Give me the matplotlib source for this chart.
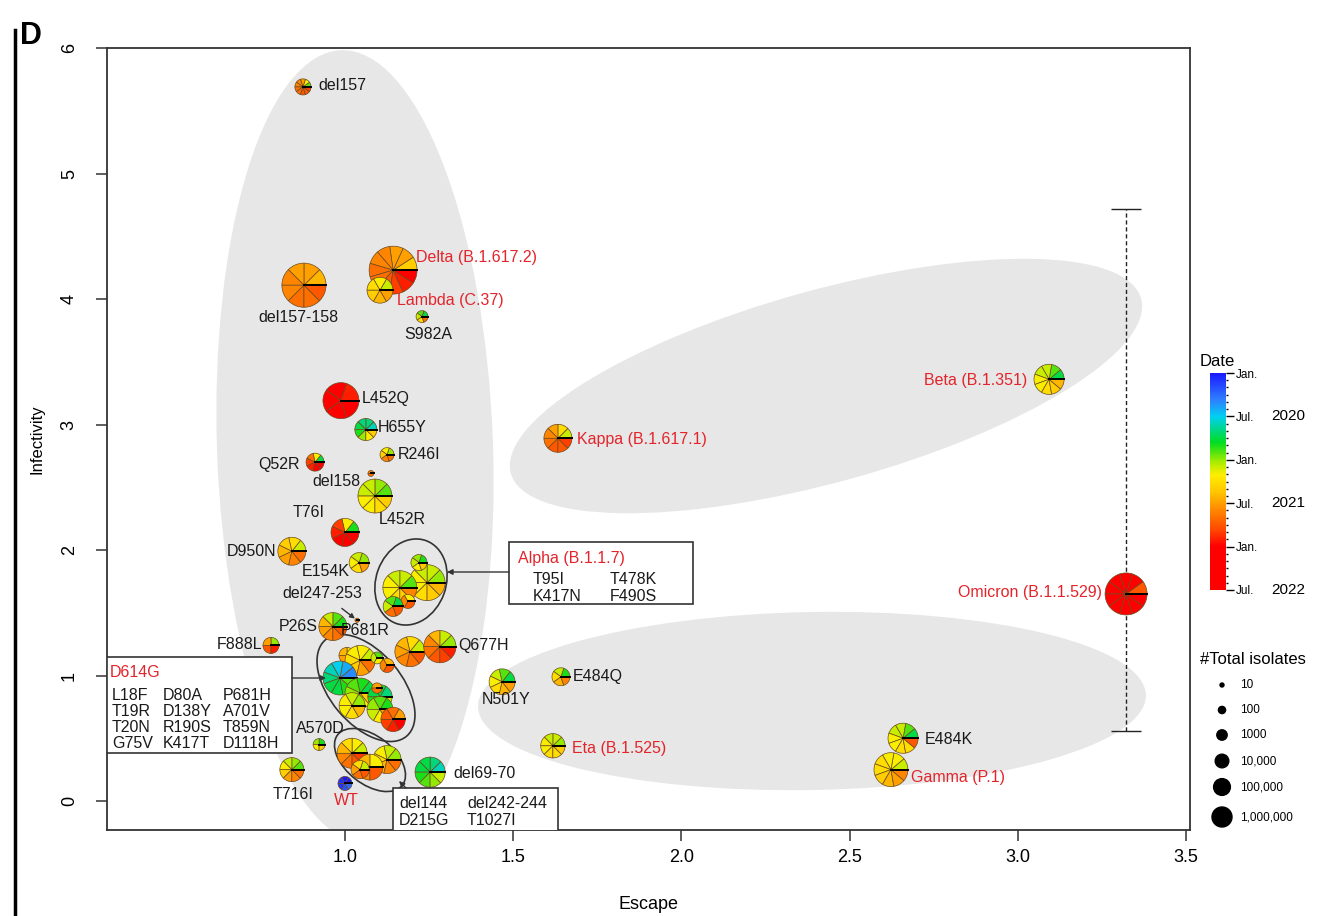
import numpy as np
import matplotlib.pyplot as plt
from matplotlib import transforms
from matplotlib.lines import Line2D
from matplotlib.patches import Wedge, Ellipse, Rectangle
from matplotlib.colors import LinearSegmentedColormap, Normalize
from matplotlib.cm import ScalarMappable

plt.rcParams['font.family'] = ['Liberation Sans', 'DejaVu Sans']

# mutations / variants: escape (x), infectivity (y), total isolates, months of isolates
# (month 0 = Jan 2020 ... month 30 = Jul 2022)
labels = ['del157', 'del157-158', 'Delta (B.1.617.2)', 'Lambda (C.37)', 'S982A',
          'L452Q', 'H655Y', 'R246I', 'Q52R', 'del158', 'L452R', 'T76I', 'D950N',
          'E154K', '', '', '', '', 'P681R', 'del247-253', 'P26S', 'F888L', '',
          'Q677H', '', '', '', '', '', '', '', '', '', '', '', 'A570D', 'T716I', 'WT',
          '', '', '', '', 'del69-70', 'N501Y', 'E484Q', 'Eta (B.1.525)', 'E484K',
          'Gamma (P.1)', 'Beta (B.1.351)', 'Kappa (B.1.617.1)', 'Omicron (B.1.1.529)']
escape = [0.875, 0.878, 1.143, 1.104, 1.229,
          0.988, 1.062, 1.125, 0.911, 1.077, 1.089, 1.000, 0.842,
          1.042, 1.244, 1.163, 1.220, 1.187, 1.143, 1.036, 0.964, 0.780, 1.193,
          1.282, 1.006, 1.045, 1.095, 1.125, 0.985, 1.045, 1.104, 1.095, 1.021, 1.104, 1.143, 0.923, 0.842, 1.000,
          1.021, 1.125, 1.074, 1.045, 1.253, 1.467, 1.642, 1.618, 2.659,
          2.623, 3.093, 1.633, 3.322]
infectivity = [5.69, 4.11, 4.23, 4.07, 3.86,
               3.19, 2.96, 2.76, 2.70, 2.61, 2.43, 2.14, 1.99,
               1.90, 1.74, 1.70, 1.90, 1.59, 1.55, 1.44, 1.39, 1.24, 1.19,
               1.23, 1.16, 1.12, 1.14, 1.08, 0.98, 0.86, 0.83, 0.90, 0.76, 0.73, 0.65, 0.45, 0.25, 0.14,
               0.38, 0.33, 0.27, 0.25, 0.23, 0.95, 0.99, 0.44, 0.50,
               0.25, 3.36, 2.89, 1.65]
isolates = [200, 2e6, 7e6, 5000, 50,
            1.4e5, 1400, 100, 370, 7, 7e4, 1e4, 1e4,
            700, 1.4e5, 7e4, 200, 100, 700, 4, 1e4, 200, 2e4,
            4e4, 200, 2e4, 50, 100, 7e4, 2e4, 3000, 30, 5000, 5000, 3000, 50, 2700, 100,
            2e4, 1e4, 5000, 400, 2e4, 5000, 370, 3000, 2e4,
            7e4, 2e4, 1e4, 1e6]
months = [[11, 14, 18, 19, 19, 20, 20, 21, 21, 22],
          [17, 18, 18, 19, 19, 20, 20, 21],
          [16, 18, 18, 19, 19, 20, 20, 21, 22, 23, 24],
          [13, 14, 15, 16, 17, 18],
          [9, 11, 13, 15, 20],
          [23, 24, 24, 25, 26],
          [7, 8, 8, 9, 10, 12, 14, 16],
          [12, 14, 16, 19, 20],
          [9, 14, 20, 22, 23, 24, 25],
          [19, 20],
          [11, 12, 13, 13, 14, 14, 15, 16],
          [10, 14, 22, 23, 24, 24, 25],
          [13, 15, 16, 17, 18, 19, 20],
          [12, 13, 14, 15, 18],
          [12, 13, 13, 14, 14, 15, 16, 17],
          [11, 13, 13, 14, 14, 15, 16, 19],
          [10, 12, 13, 14, 16],
          [14, 19, 21],
          [9, 11, 13, 20, 21],
          [19, 20],
          [10, 11, 13, 17, 18, 19, 20, 21],
          [12, 18, 21, 23],
          [13, 15, 17, 18, 19, 20, 21],
          [12, 13, 17, 19, 20, 21, 22, 23],
          [15, 17, 18, 19],
          [13, 14, 14, 15, 16, 18, 20],
          [11, 13, 14],
          [17, 19, 21],
          [4, 5, 6, 7, 8, 9, 9, 10, 11],
          [9, 10, 11, 12, 13, 14, 16],
          [8, 9, 9, 10, 11, 13],
          [18, 20],
          [12, 13, 14, 14, 15, 17],
          [10, 11, 12, 13, 14, 18],
          [18, 20, 21, 22, 23, 24],
          [10, 12, 14, 16],
          [11, 12, 13, 14, 16, 18, 19, 20],
          [0, 0, 1, 1, 2, 3],
          [13, 14, 15, 17, 19, 20, 21, 22],
          [12, 13, 14, 15, 17, 19, 20],
          [14, 17, 19, 21],
          [13, 15, 18, 20, 21],
          [7, 8, 9, 9, 10, 11, 12, 13],
          [9, 11, 13, 14, 15, 17, 18],
          [10, 13, 15, 17, 19],
          [12, 13, 13, 14, 14, 15, 15, 16],
          [9, 11, 13, 13, 14, 14, 15, 15, 21],
          [13, 14, 14, 15, 15, 16, 17, 18, 19],
          [9, 11, 13, 13, 14, 14, 15, 16, 17],
          [13, 15, 18, 19, 20, 21, 21, 22],
          [21, 24, 24, 24, 24, 24, 24, 24, 25, 25]]
variants = {'Delta (B.1.617.2)', 'Lambda (C.37)', 'WT', 'Eta (B.1.525)', 'Gamma (P.1)',
            'Beta (B.1.351)', 'Kappa (B.1.617.1)', 'Omicron (B.1.1.529)'}
omicron_range = [0.56, 4.72]

date_ticks = [0, 6, 12, 18, 24, 30]
date_tick_labels = ['Jan.', 'Jul.', 'Jan.', 'Jul.', 'Jan.', 'Jul.']
years = {6: '2020', 18: '2021', 30: '2022'}
size_values = [10, 100, 1000, 10000, 100000, 1000000]
size_labels = ['10', '100', '1000', '10,000', '100,000', '1,000,000']

# label placement: offset in pixels from the point, alignment
label_pos = {
    'del157': (15, 1, 'left'), 'del157-158': (-6, -32, 'center'),
    'Delta (B.1.617.2)': (23, 13, 'left'), 'Lambda (C.37)': (17, -10, 'left'),
    'S982A': (6, -18, 'center'), 'L452Q': (21, 2, 'left'), 'H655Y': (12, 2, 'left'),
    'R246I': (11, 0, 'left'), 'Q52R': (-15, -2, 'right'), 'del158': (-34, -8, 'center'),
    'L452R': (27, -23, 'center'), 'T76I': (-36, 20, 'center'), 'D950N': (-16, 0, 'right'),
    'E154K': (-9, -9, 'right'), 'P681R': (-28, -24, 'center'), 'P26S': (-15, 0, 'right'),
    'F888L': (-9, 1, 'right'), 'Q677H': (18, 1, 'left'), 'A570D': (1, 16, 'center'),
    'T716I': (1, -25, 'center'), 'WT': (1, -17, 'center'), 'del69-70': (23, -1, 'left'),
    'N501Y': (4, -18, 'center'), 'E484Q': (12, 0, 'left'), 'Eta (B.1.525)': (19, -3, 'left'),
    'E484K': (22, -1, 'left'), 'Gamma (P.1)': (20, -8, 'left'),
    'Beta (B.1.351)': (-22, -1, 'right'), 'Kappa (B.1.617.1)': (19, -1, 'left'),
    'Omicron (B.1.1.529)': (-24, 1, 'right'),
}

RED = '#e3242b'
cmap = LinearSegmentedColormap.from_list('date', [
    (0.0, '#1a1aff'), (0.12, '#2f7dff'), (0.2, '#00d0f0'), (0.32, '#00dd20'),
    (0.41, '#a8ec00'), (0.47, '#ffee00'), (0.55, '#ffc400'), (0.62, '#ff9000'),
    (0.72, '#ff4a00'), (0.8, '#ff0000'), (1.0, '#ff0000')])


def px(x, y):
    # image pixel -> data coordinates (for annotation layout)
    return (x - 8.6) / 336.4, (801 - y) / 125.5


fig = plt.figure(figsize=(13.32, 9.16), dpi=100)
ax = fig.add_axes([107 / 1332, 86 / 916, 1083 / 1332, 782 / 916])


def pix_trans(x, y):
    return fig.dpi_scale_trans + transforms.ScaledTranslation(x, y, ax.transData)


# grey groups
for (cx, cy), w, h, ang in [(px(355, 447), 276, 794, 2), (px(826, 386), 654, 192, 15.5),
                            (px(812, 701), 668, 178, 1)]:
    ax.add_patch(Ellipse((0, 0), w / 100, h / 100, angle=ang, facecolor='#e7e7e7',
                         edgecolor='none', transform=pix_trans(cx, cy), zorder=0.5))

# cluster outlines
for (cx, cy), w, h, ang in [(px(411, 582), 88, 70, 70), (px(366, 688), 126, 72, -50),
                            (px(370, 760), 82, 48, -38)]:
    ax.add_patch(Ellipse((0, 0), w / 100, h / 100, angle=ang, fill=False,
                         edgecolor='#333333', lw=1.2, transform=pix_trans(cx, cy), zorder=2))

# omicron range
i_om = labels.index('Omicron (B.1.1.529)')
eb = ax.errorbar([escape[i_om]], [infectivity[i_om]],
                 yerr=[[infectivity[i_om] - omicron_range[0]], [omicron_range[1] - infectivity[i_om]]],
                 fmt='none', ecolor='#222222', elinewidth=1.0, capsize=11, capthick=1.0, zorder=2)
eb[2][0].set_linestyle((0, (3, 2)))

# pies
for name, x, y, n, mons in zip(labels, escape, infectivity, isolates, months):
    r = 3.5 * np.log10(n) / 100
    tr = pix_trans(x, y)
    step = 360 / len(mons)
    for k, m in enumerate(mons):
        ax.add_patch(Wedge((0, 0), r, k * step, (k + 1) * step, facecolor=cmap(m / 30),
                           edgecolor='#6a4a20', lw=0.5, transform=tr, zorder=3))
    ax.add_line(Line2D([0, r], [0, 0], color='black', lw=1.4, transform=tr, zorder=3))
    if name and name != 'del247-253':
        dx, dy, ha = label_pos[name]
        ax.annotate(name, (x, y), xytext=(dx, dy), textcoords='offset pixels',
                    ha=ha, va='center', fontsize=11.5,
                    color=RED if name in variants else '#1a1a1a', zorder=4)

i_d = labels.index('del247-253')
ax.annotate('del247-253', (escape[i_d], infectivity[i_d]), xytext=px(322, 593),
            ha='center', va='center', fontsize=11.5, color='#1a1a1a',
            arrowprops=dict(arrowstyle='-|>', color='#333333', lw=1, mutation_scale=7,
                            shrinkA=6, shrinkB=2))

# boxes with mutation lists
for (x0, y0, x1, y1) in [(509, 542, 693, 604), (107, 657, 292, 753), (393, 788, 558, 840)]:
    (a, b), (c, d) = px(x0, y1), px(x1, y0)
    ax.add_patch(Rectangle((a, b), c - a, d - b, facecolor='white', edgecolor='#333333',
                           lw=1.2, zorder=4))

box_text = [('Alpha (B.1.1.7)', 518, 558, RED), ('T95I', 533, 579, '#1a1a1a'),
            ('T478K', 610, 579, '#1a1a1a'), ('K417N', 533, 596, '#1a1a1a'),
            ('F490S', 610, 596, '#1a1a1a'), ('D614G', 110, 672, RED),
            ('del144', 399, 803, '#1a1a1a'), ('del242-244', 467, 803, '#1a1a1a'),
            ('D215G', 399, 820, '#1a1a1a'), ('T1027I', 467, 820, '#1a1a1a')]
d614g_cols = [['L18F', 'T19R', 'T20N', 'G75V'], ['D80A', 'D138Y', 'R190S', 'K417T'],
              ['P681H', 'A701V', 'T859N', 'D1118H']]
for c, col in zip([112, 163, 223], d614g_cols):
    for r_, t in zip([695, 711, 727, 743], col):
        box_text.append((t, c, r_, '#1a1a1a'))
for t, x, y, col in box_text:
    ax.text(*px(x, y), t, ha='left', va='center', fontsize=11.5, color=col, zorder=5)

arrow = dict(arrowstyle='-|>', color='#333333', lw=1, mutation_scale=8, shrinkA=0, shrinkB=0)
ax.annotate('', xy=px(447, 572), xytext=px(509, 572), arrowprops=arrow, zorder=5)
ax.annotate('', xy=px(326, 678), xytext=px(292, 678), arrowprops=arrow, zorder=5)
ax.annotate('', xy=px(399, 781), xytext=px(406, 788), arrowprops=arrow, zorder=5)

ax.set_xlim(0.2925, 3.512)
ax.set_ylim(-0.231, 6.0)
ax.set_xticks([1.0, 1.5, 2.0, 2.5, 3.0, 3.5])
ax.set_xticklabels(['1.0', '1.5', '2.0', '2.5', '3.0', '3.5'])
ax.set_yticks(range(7))
ax.set_yticklabels([str(v) for v in range(7)], rotation=90, va='center')
ax.tick_params(direction='out', length=8, width=1.1, labelsize=13, color='#333333', pad=6)
ax.tick_params(axis='y', pad=13)
for s in ax.spines.values():
    s.set_color('#333333')
    s.set_linewidth(1.3)
ax.set_xlabel('Escape', fontsize=13, labelpad=21)
ax.set_ylabel('Infectivity', fontsize=12, labelpad=12)

# date colour bar
fig.text(1200 / 1332, 1 - 362 / 916, 'Date', fontsize=12, va='center')
cax = fig.add_axes([1210 / 1332, (916 - 590) / 916, 16 / 1332, 217 / 916])
cb = fig.colorbar(ScalarMappable(norm=Normalize(0, 30), cmap=cmap), cax=cax)
cb.outline.set_visible(False)
cax.invert_yaxis()
cb.set_ticks(date_ticks)
cb.set_ticklabels(date_tick_labels)
cax.set_yticks(range(31), minor=True)
cax.tick_params(which='major', length=6, width=1, labelsize=8.5, pad=1)
cax.tick_params(which='minor', length=1.5, width=1)
ytr = transforms.blended_transform_factory(cax.transAxes, cax.transData)
for m, yr in years.items():
    cax.text(3.8, m, yr, transform=ytr, fontsize=11, va='center')

# size legend
fig.text(1200 / 1332, 1 - 660 / 916, '#Total isolates', fontsize=12, va='center')
lax = fig.add_axes([1200 / 1332, (916 - 832) / 916, 132 / 1332, 160 / 916])
lax.set_xlim(0, 132)
lax.set_ylim(832, 672)
lax.axis('off')
rows = [685, 710, 735, 761, 787, 817]
rad = [1.6 * np.log10(v) + 0.4 for v in size_values]
lax.scatter([22] * len(rows), rows, s=[(2 * r * 0.72) ** 2 for r in rad], color='black')
for yv, t in zip(rows, size_labels):
    lax.text(40, yv, t, fontsize=8.5, va='center')

# panel letter and frame line
fig.add_artist(Line2D([15 / 1332] * 2, [0, 1 - 30 / 916], transform=fig.transFigure,
                      color='black', lw=2.5))
fig.text(20 / 1332, 1 - 36 / 916, 'D', fontsize=22, fontweight='bold', va='center')

fig.savefig('out.png', dpi=100)
